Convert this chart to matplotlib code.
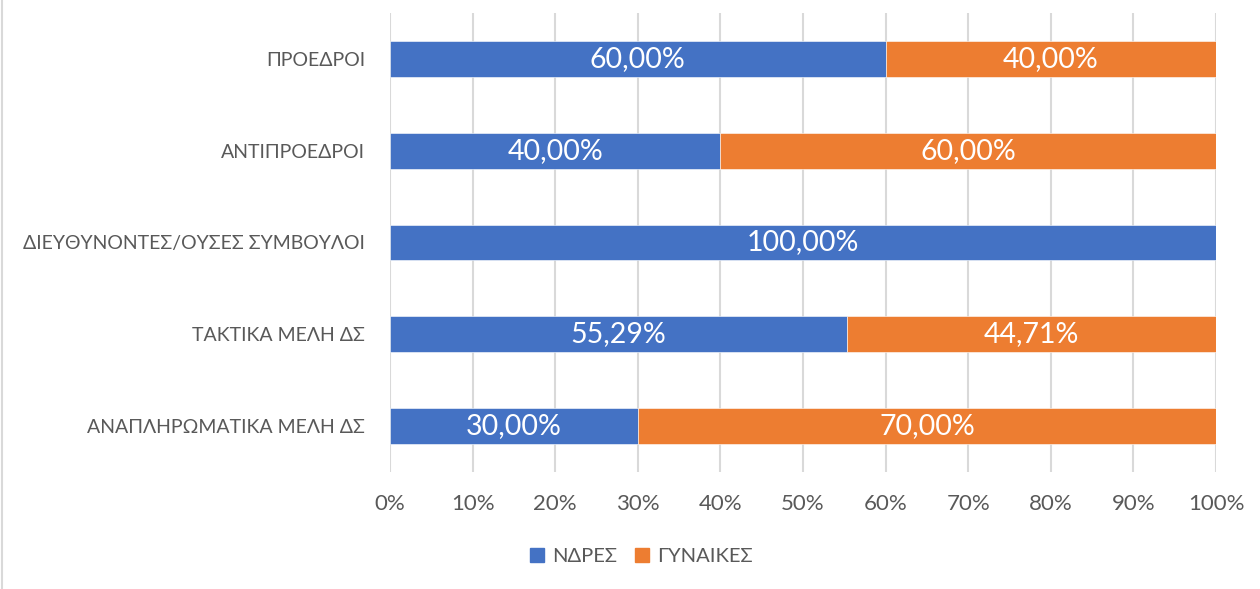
import matplotlib.pyplot as plt
import numpy as np
from matplotlib.lines import Line2D

plt.rcParams['font.family'] = ['Lato', 'DejaVu Sans']

categories = ["ΠΡΟΕΔΡΟΙ", "ΑΝΤΙΠΡΟΕΔΡΟΙ", "ΔΙΕΥΘΥΝΟΝΤΕΣ/ΟΥΣΕΣ ΣΥΜΒΟΥΛΟΙ",
              "ΤΑΚΤΙΚΑ ΜΕΛΗ ΔΣ", "ΑΝΑΠΛΗΡΩΜΑΤΙΚΑ ΜΕΛΗ ΔΣ"]
men = [60.00, 40.00, 100.00, 55.29, 30.00]
women = [40.00, 60.00, 0.00, 44.71, 70.00]
series_names = ["ΝΔΡΕΣ", "ΓΥΝΑΙΚΕΣ"]
colors = ["#4472C4", "#ED7D31"]

fig = plt.figure(figsize=(12.6, 5.89), dpi=100)
ax = fig.add_axes([390 / 1260, 1 - 472 / 589, 826 / 1260, 459 / 589])

y = np.arange(len(categories))
b1 = ax.barh(y, men, height=0.39, color=colors[0], edgecolor="white", linewidth=0.4, zorder=3)
b2 = ax.barh(y, women, left=men, height=0.39, color=colors[1], edgecolor="white", linewidth=0.4, zorder=3)

for bars, vals, lefts in [(b1, men, [0] * len(men)), (b2, women, men)]:
    for yi, v, l in zip(y, vals, lefts):
        if v <= 0:
            continue
        ax.text(l + v / 2, yi, f"{v:.2f}".replace(".", ",") + "%", ha="center", va="center",
                color="white", fontsize=20.5, zorder=4)

ax.set_xlim(0, 100)
ax.set_ylim(len(categories) - 0.5, -0.5)
ax.set_xticks(np.arange(0, 101, 10))
ax.set_xticklabels([f"{t}%" for t in range(0, 101, 10)])
ax.set_yticks(y)
ax.set_yticklabels(categories)
ax.tick_params(axis="both", length=0, colors="#595959")
ax.tick_params(axis="x", pad=16, labelsize=16)
ax.tick_params(axis="y", pad=18, labelsize=14)
ax.xaxis.grid(True, color="#d9d9d9", linewidth=1.5, zorder=0)
for s in ax.spines.values():
    s.set_visible(False)

handles = [Line2D([], [], marker="s", linestyle="", markersize=10, color=c) for c in colors]
fig.legend(handles, series_names, loc="center", bbox_to_anchor=(641 / 1260, 1 - 556 / 589), ncol=2,
           frameon=False, fontsize=14.5, labelcolor="#595959", handlelength=0.7,
           handletextpad=0.4, columnspacing=0.9)

fig.add_artist(Line2D([2 / 1260, 2 / 1260], [0, 1], color="#d9d9d9", linewidth=1.5))

fig.savefig("out.png", dpi=100)
